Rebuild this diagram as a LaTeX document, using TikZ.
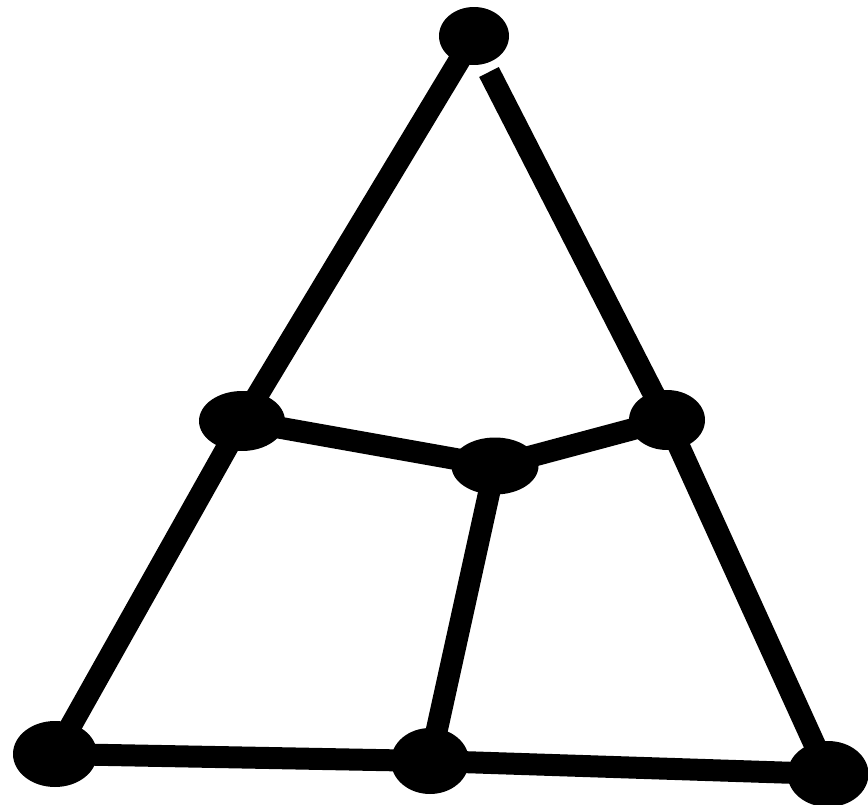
\documentclass[tikz,border=0pt]{standalone}
\usepackage{tikz}
\usetikzlibrary{shapes.geometric}

\begin{document}
\begin{tikzpicture}[
  x=0.02cm,y=-0.02cm,
  vertex/.style={ellipse,fill=black,inner sep=0pt,minimum width=1.6cm,minimum height=1.2cm},
  edge/.style={line width=0.44cm,draw=black}
]
\useasboundingbox (0,0) rectangle (868,804);
\node[vertex,minimum width=1.4cm,minimum height=1.16cm] (top) at (474,36) {};
\node[vertex,minimum width=1.72cm] (lm) at (242,421) {};
\node[vertex,minimum width=1.52cm] (rm) at (667,420) {};
\node[vertex,minimum width=1.74cm,minimum height=1.14cm] (c) at (495,466) {};
\node[vertex,minimum width=1.68cm,minimum height=1.32cm] (bl) at (55,754) {};
\node[vertex,minimum width=1.56cm,minimum height=1.32cm] (bm) at (430,761) {};
\node[vertex,minimum width=1.62cm,minimum height=1.32cm] (br) at (828,774) {};
\coordinate (gap) at (489,72);
\draw[edge] (top.center) -- (lm.center); \draw[edge] (gap) -- (rm.center);
\draw[edge] (lm.center) -- (bl.center); \draw[edge] (rm.center) -- (br.center);
\draw[edge] (lm.center) -- (c.center); \draw[edge] (c.center) -- (rm.center);
\draw[edge] (c.center) -- (bm.center);
\draw[edge] (bl.center) -- (bm.center); \draw[edge] (bm.center) -- (br.center);
\end{tikzpicture}
\end{document}
